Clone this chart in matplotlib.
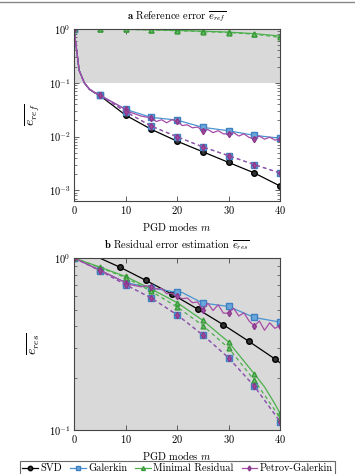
import matplotlib
matplotlib.use("Agg")
import matplotlib.pyplot as plt
from matplotlib.lines import Line2D
from matplotlib.ticker import LogLocator, NullFormatter

plt.rcParams["font.family"] = "serif"
plt.rcParams["font.serif"] = ["cmr10", "DejaVu Serif"]
plt.rcParams["mathtext.fontset"] = "cm"
plt.rcParams["axes.formatter.use_mathtext"] = True

# ---- panel a: reference error ----
svd_a_m = [0, 1, 2, 3, 4, 5, 10, 15, 20, 25, 30, 35, 40]
svd_a = [1.0, 0.17, 0.1, 0.075, 0.065, 0.058, 0.025, 0.0136, 0.0082, 0.0052, 0.0033, 0.0021, 0.0012]

gal_a_m = [0, 1, 2, 3, 4, 5, 10, 15, 20, 25, 30, 35, 40]
gal_a = [1.0, 0.17, 0.1, 0.076, 0.066, 0.059, 0.032, 0.0227, 0.0202, 0.0148, 0.0128, 0.0105, 0.0093]
gal_a_dash = [1.0, 0.17, 0.1, 0.076, 0.066, 0.059, 0.029, 0.0156, 0.0099, 0.0064, 0.0044, 0.0030, 0.0021]

mr_a_m = [0, 5, 10, 15, 20, 25, 30, 35, 40]
mr_a = [1.0, 0.995, 0.985, 0.965, 0.94, 0.91, 0.875, 0.82, 0.74]
mr_a_dash = [1.0, 0.995, 0.985, 0.96, 0.93, 0.895, 0.86, 0.80, 0.70]

pg_a_m = [0, 1, 2, 3, 4, 5] + list(range(10, 41))
pg_a = [1.0, 0.17, 0.1, 0.076, 0.066, 0.059,
        0.032, 0.028, 0.026, 0.024, 0.023, 0.0225, 0.019, 0.0205, 0.018, 0.0205, 0.0195,
        0.016, 0.0165, 0.0145, 0.015, 0.0128, 0.0135, 0.0118, 0.0128, 0.0112, 0.0111,
        0.0118, 0.0102, 0.0112, 0.0096, 0.0091, 0.0102, 0.0089, 0.0097, 0.0086, 0.0088]
pg_a_dash_m = gal_a_m
pg_a_dash = [1.0, 0.17, 0.1, 0.076, 0.066, 0.059, 0.029, 0.0156, 0.0099, 0.0064, 0.0044, 0.0030, 0.0021]

# ---- panel b: residual error estimation ----
svd_b_m = [0, 4, 9, 14, 19, 24, 29, 34, 39, 40]
svd_b = [1.22, 1.03, 0.882, 0.74, 0.617, 0.505, 0.409, 0.327, 0.259, 0.246]

gal_b_m = [0, 5, 10, 15, 20, 21, 25, 30, 35, 40]
gal_b = [1.0, 0.85, 0.72, 0.67, 0.632, 0.63, 0.547, 0.523, 0.451, 0.424]
dash_b_m = [0, 5, 10, 15, 20, 25, 30, 35, 40]
gal_b_dash = [1.0, 0.845, 0.70, 0.585, 0.468, 0.357, 0.263, 0.18, 0.112]

mr_b_m = [0, 5, 10, 15, 20, 25, 30, 35, 37, 39, 40]
mr_b = [1.0, 0.886, 0.781, 0.66, 0.551, 0.434, 0.325, 0.212, 0.178, 0.142, 0.125]
mr_b_dash = [1.0, 0.88, 0.77, 0.64, 0.52, 0.405, 0.30, 0.195, 0.118]

pg_b_m = [0, 5] + list(range(10, 41))
pg_b = [1.0, 0.85,
        0.72, 0.70, 0.69, 0.68, 0.69, 0.678, 0.66, 0.665, 0.62, 0.625, 0.60,
        0.58, 0.585, 0.55, 0.555, 0.50, 0.545, 0.495, 0.535, 0.478, 0.478,
        0.51, 0.46, 0.48, 0.43, 0.403, 0.43, 0.38, 0.42, 0.39, 0.405]
pg_b_dash = [1.0, 0.845, 0.70, 0.585, 0.468, 0.357, 0.263, 0.18, 0.112]

STY = {
    "SVD": dict(color="black", marker="o", ms=4, mfc="#333333", mec="black"),
    "Galerkin": dict(color="#4a94d0", marker="s", ms=4, mfc="#6aa8dc", mec="#3f80c0"),
    "Minimal Residual": dict(color="#4cb04c", marker="^", ms=3.5, mfc="#66c266", mec="#3a9a3a"),
    "Petrov-Galerkin": dict(color="#a64ca6", marker="d", ms=3.2, mfc="#a64ca6", mec="#8a3a8a"),
}


def marks(m, at):
    return [i for i, v in enumerate(m) if v in at]


EVERY5 = list(range(0, 41, 5))


def draw(ax, m, vals, name, dashed=False, at=EVERY5):
    ls = (0, (3, 2.5)) if dashed else "-"
    return ax.plot(m, vals, ls=ls, lw=0.9, markevery=marks(m, at), label=name,
                   **STY[name])[0]


def style_axes(ax):
    ax.set_yscale("log")
    ax.set_xlim(0, 40)
    ax.set_xticks([0, 10, 20, 30, 40])
    ax.tick_params(which="both", direction="in", top=True, right=True, labelsize=7.5,
                   color="#444444", pad=2.5)
    ax.tick_params(which="major", length=3.5, width=0.6)
    ax.tick_params(which="minor", length=2, width=0.5)
    ax.yaxis.set_major_locator(LogLocator(base=10, numticks=10))
    ax.yaxis.set_minor_locator(LogLocator(base=10, subs=range(2, 10), numticks=10))
    ax.yaxis.set_minor_formatter(NullFormatter())
    for s in ax.spines.values():
        s.set_color("#444444")
        s.set_linewidth(0.8)
    ax.set_xlabel("PGD modes $m$", fontsize=7.5, labelpad=3)


fig = plt.figure(figsize=(3.55, 4.74), dpi=100)
fig.add_artist(Line2D([0, 1], [0.996, 0.996], color="#888888", lw=1))

W, H = 355, 474
ax_a = fig.add_axes([74 / W, 1 - 201 / H, 206 / W, 172 / H])
ax_b = fig.add_axes([74 / W, 1 - 430 / H, 206 / W, 172 / H])

# panel a
ax_a.axhspan(0.1, 1.0, color="#d9d9d9", zorder=0, lw=0)
draw(ax_a, svd_a_m, svd_a, "SVD")
draw(ax_a, gal_a_m, gal_a, "Galerkin")
draw(ax_a, gal_a_m, gal_a_dash, "Galerkin", dashed=True)
draw(ax_a, mr_a_m, mr_a, "Minimal Residual")
draw(ax_a, mr_a_m, mr_a_dash, "Minimal Residual", dashed=True)
draw(ax_a, pg_a_m, pg_a, "Petrov-Galerkin")
draw(ax_a, pg_a_dash_m, pg_a_dash, "Petrov-Galerkin", dashed=True)
style_axes(ax_a)
ax_a.set_ylim(10 ** -3.2, 1.0)
ax_a.set_title(r"$\mathbf{a}$ Reference error $\overline{e_{ref}}$", fontsize=7.5, pad=7)
ax_a.set_ylabel(r"$\overline{e_{ref}}$", fontsize=10, labelpad=5)

# panel b
ax_b.set_facecolor("#d9d9d9")
h_svd = draw(ax_b, svd_b_m, svd_b, "SVD", at=[9, 14, 19, 24, 29, 34, 39])
h_gal = draw(ax_b, gal_b_m, gal_b, "Galerkin")
draw(ax_b, dash_b_m, gal_b_dash, "Galerkin", dashed=True)
h_mr = draw(ax_b, mr_b_m, mr_b, "Minimal Residual")
draw(ax_b, dash_b_m, mr_b_dash, "Minimal Residual", dashed=True)
h_pg = draw(ax_b, pg_b_m, pg_b, "Petrov-Galerkin")
draw(ax_b, dash_b_m, pg_b_dash, "Petrov-Galerkin", dashed=True)
style_axes(ax_b)
ax_b.set_ylim(0.1, 1.0)
ax_b.set_title(r"$\mathbf{b}$ Residual error estimation $\overline{e_{res}}$", fontsize=7.5, pad=7)
ax_b.set_ylabel(r"$\overline{e_{res}}$", fontsize=10, labelpad=5)

leg = fig.legend(handles=[h_svd, h_gal, h_mr, h_pg], loc="lower center",
                 bbox_to_anchor=(0.5, -0.004), ncol=4, fontsize=7.5, frameon=True,
                 fancybox=False, edgecolor="#444444", handlelength=1.5,
                 handletextpad=0.25, columnspacing=0.75, borderpad=0.25,
                 borderaxespad=0.0, markerscale=0.8)
leg.get_frame().set_linewidth(0.8)

fig.savefig("out.png", dpi=100)
